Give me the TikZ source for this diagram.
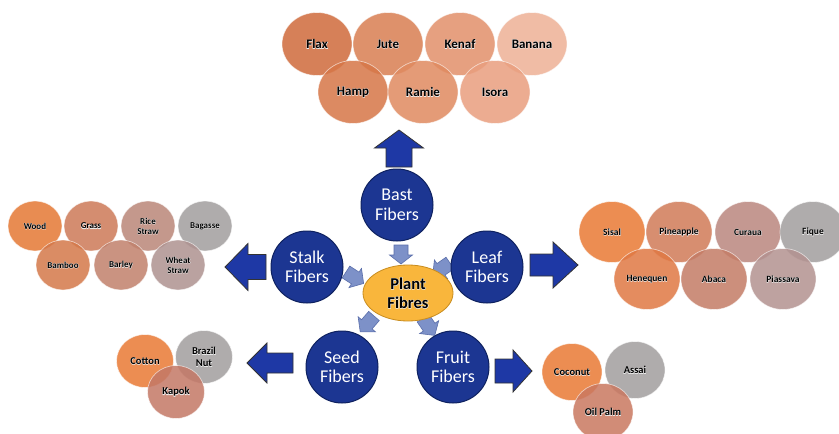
\documentclass[tikz,border=0pt]{standalone}
\usepackage{fontspec}
\setmainfont{Carlito}
\newfontface\halofont{Carlito Bold}[FakeBold=5]
\usetikzlibrary{shapes.geometric}

\definecolor{bluec}{RGB}{28,54,146}
\definecolor{bluecb}{RGB}{15,34,96}
\definecolor{bigarr}{RGB}{30,56,165}
\definecolor{smallarr}{RGB}{125,145,200}
\definecolor{smallarrb}{RGB}{90,110,170}
\definecolor{plantc}{RGB}{249,182,60}
\definecolor{plantb}{RGB}{200,140,30}
% top (bast)
\definecolor{cflax}{RGB}{207,106,59}
\definecolor{cjute}{RGB}{217,126,82}
\definecolor{ckenaf}{RGB}{226,144,106}
\definecolor{cbanana}{RGB}{238,177,150}
\definecolor{champ}{RGB}{214,118,71}
\definecolor{cramie}{RGB}{224,138,96}
\definecolor{cisora}{RGB}{233,158,126}
% stalk
\definecolor{cwood}{RGB}{228,120,52}
\definecolor{cgrass}{RGB}{205,122,87}
\definecolor{crice}{RGB}{186,134,120}
\definecolor{cgrey}{RGB}{161,158,158}
\definecolor{cbamboo}{RGB}{212,120,73}
\definecolor{cbarley}{RGB}{193,129,108}
\definecolor{cwheat}{RGB}{174,146,144}
% leaf
\definecolor{csisal}{RGB}{233,122,52}
\definecolor{cpine}{RGB}{208,123,87}
\definecolor{ccuraua}{RGB}{186,134,126}
\definecolor{chene}{RGB}{224,120,67}
\definecolor{cabaca}{RGB}{196,124,102}
\definecolor{cpiass}{RGB}{179,146,144}
\definecolor{ckapok}{RGB}{196,120,102}
\definecolor{coil}{RGB}{202,120,96}

\newcommand\hl[1]{\rlap{\halofont\color{white!92!black}#1}#1}

\newcommand\blockarrow[8]{%
  \begin{scope}[shift={(#1,#2)}, rotate=#3]
    \draw[#8] (0,-#5/2) -- (#4-#7,-#5/2) -- (#4-#7,-#6/2) -- (#4,0)
      -- (#4-#7,#6/2) -- (#4-#7,#5/2) -- (0,#5/2) -- cycle;
  \end{scope}}

\begin{document}
\begin{tikzpicture}[x=1pt,y=-1pt,
  fib/.style={ellipse, fill opacity=0.85, text opacity=1, draw=white,
    draw opacity=0.6, line width=0.7pt, inner sep=0pt, align=center,
    font=\bfseries, text=black},
  topfib/.style={fib, minimum width=70pt, minimum height=63pt, font=\fontsize{13}{14}\selectfont\bfseries},
  stalkfib/.style={fib, minimum width=54pt, minimum height=50pt, font=\fontsize{9}{10}\selectfont\bfseries},
  leaffib/.style={fib, minimum width=66pt, minimum height=61pt, font=\fontsize{9.5}{10.5}\selectfont\bfseries},
  seedfib/.style={fib, minimum width=57pt, minimum height=53pt, font=\fontsize{10.5}{12}\selectfont\bfseries},
  fruitfib/.style={fib, minimum width=60pt, minimum height=57pt, font=\fontsize{10.5}{12}\selectfont\bfseries},
  bluenode/.style={circle, fill=bluec, draw=bluecb, line width=1pt, minimum size=72pt,
    inner sep=0pt, align=center, text=white, font=\fontsize{18}{19.5}\selectfont},
  bigarrow/.style={fill=bigarr, draw=black!80, line width=0.8pt, line join=miter},
  smallarrow/.style={fill=smallarr, draw=smallarrb, line width=0.6pt}
]
\useasboundingbox (0,0) rectangle (839,434);
\fill[white] (0,0) rectangle (839,434);

% small arrows (under the circles)
\blockarrow{401}{245}{-90}{19}{14}{23}{9}{smallarrow}
\blockarrow{346}{272}{-33}{21}{14}{23}{10}{smallarrow}
\blockarrow{450}{263}{-145}{21}{14}{23}{10}{smallarrow}
\blockarrow{374}{316}{-131}{21}{14}{23}{10}{smallarrow}
\blockarrow{423}{318}{-56}{21}{14}{23}{10}{smallarrow}

% big arrows
\blockarrow{399}{167}{90}{37}{26}{49}{18}{bigarrow}
\blockarrow{266}{267}{180}{41}{25}{47}{23}{bigarrow}
\blockarrow{530}{265}{0}{48}{22}{46}{25}{bigarrow}
\blockarrow{293}{363}{180}{46}{20}{40}{20}{bigarrow}
\blockarrow{495}{371}{0}{37}{24}{42}{19}{bigarrow}

% blue category circles
\node[bluenode] (bast) at (397,205) {Bast\\Fibers};
\node[bluenode] (stalk) at (307,267) {Stalk\\Fibers};
\node[bluenode] (leaf) at (487,267) {Leaf\\Fibers};
\node[bluenode] (seed) at (342,367) {Seed\\Fibers};
\node[bluenode] (fruit) at (453,367) {Fruit\\Fibers};

% centre
\node[ellipse, fill=plantc, draw=plantb, line width=0.8pt, minimum width=90pt,
  minimum height=56pt, inner sep=0pt, align=center,
  font=\fontsize{16.5}{19}\selectfont\bfseries] (plant) at (408,293) {\hl{Plant}\\\hl{Fibres}};

% bast fibres
\node[topfib, fill=cflax] (flax) at (317,44) {\hl{Flax}};
\node[topfib, fill=cjute] (jute) at (388,44) {\hl{Jute}};
\node[topfib, fill=ckenaf] (kenaf) at (460,44) {\hl{Kenaf}};
\node[topfib, fill=cbanana] (banana) at (532,44) {\hl{Banana}};
\node[topfib, fill=champ] (hamp) at (353,92) {\hl{Hamp}};
\node[topfib, fill=cramie] (ramie) at (423,92) {\hl{Ramie}};
\node[topfib, fill=cisora] (isora) at (495,92) {\hl{Isora}};

% stalk fibres
\node[stalkfib, fill=cwood] (wood) at (35,226) {\hl{Wood}};
\node[stalkfib, fill=cgrass] (grass) at (91,226) {\hl{Grass}};
\node[stalkfib, fill=crice] (rice) at (148,226) {\hl{Rice}\\\hl{Straw}};
\node[stalkfib, fill=cgrey] (bagasse) at (205,226) {\hl{Bagasse}};
\node[stalkfib, fill=cbamboo] (bamboo) at (63,265) {\hl{Bamboo}};
\node[stalkfib, fill=cbarley] (barley) at (121,265) {\hl{Barley}};
\node[stalkfib, fill=cwheat] (wheat) at (178,265) {\hl{Wheat}\\\hl{Straw}};

% leaf fibres
\node[leaffib, fill=csisal] (sisal) at (612,232) {\hl{Sisal}};
\node[leaffib, fill=cpine] (pine) at (679,232) {\hl{Pineapple}};
\node[leaffib, fill=ccuraua] (curaua) at (748,232) {\hl{Curaua}};
\node[leaffib, fill=cgrey] (fique) at (813,232) {\hl{Fique}};
\node[leaffib, fill=chene] (hene) at (647,279) {\hl{Henequen}};
\node[leaffib, fill=cabaca] (abaca) at (714,279) {\hl{Abaca}};
\node[leaffib, fill=cpiass] (piass) at (783,279) {\hl{Piassava}};

% seed fibres
\node[seedfib, fill=csisal] (cotton) at (145,361) {\hl{Cotton}};
\node[seedfib, fill=cgrey] (brazil) at (204,357) {\hl{Brazil}\\\hl{Nut}};
\node[seedfib, fill=ckapok] (kapok) at (176,392) {\hl{Kapok}};

% fruit fibres
\node[fruitfib, fill=csisal] (coconut) at (572,372) {\hl{Coconut}};
\node[fruitfib, fill=cgrey] (assai) at (635,370) {\hl{Assai}};
\node[fruitfib, fill=coil] (oil) at (603,412) {\hl{Oil Palm}};
\end{tikzpicture}
\end{document}
